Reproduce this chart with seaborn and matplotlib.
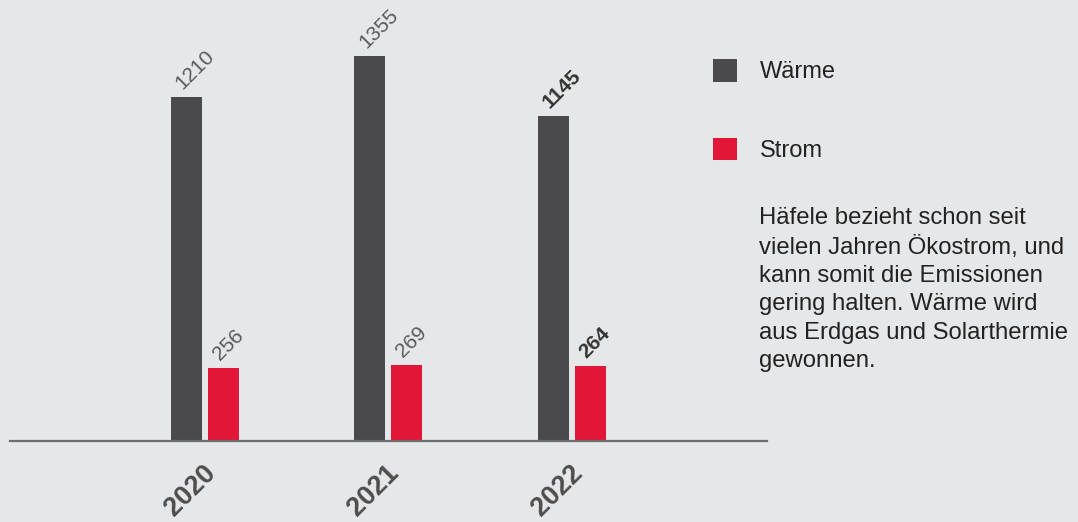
import matplotlib
matplotlib.use("Agg")
import matplotlib.pyplot as plt
import pandas as pd
import seaborn as sns

years = ["2020", "2021", "2022"]
waerme = [1210, 1355, 1145]
strom = [256, 269, 264]
series_names = ["Wärme", "Strom"]
note = ("Häfele bezieht schon seit\n"
        "vielen Jahren Ökostrom, und\n"
        "kann somit die Emissionen\n"
        "gering halten. Wärme wird\n"
        "aus Erdgas und Solarthermie\n"
        "gewonnen.")

BG = "#e6e7e9"
COLORS = {"Wärme": "#4a4a4c", "Strom": "#e21737"}


def build_frame() -> pd.DataFrame:
    rows = []
    for name, values in zip(series_names, [waerme, strom]):
        for year, value in zip(years, values):
            rows.append({"Jahr": year, "Wert": value, "Art": name})
    return pd.DataFrame(rows)


def main() -> None:
    sns.set_theme(style="white")
    plt.rcParams["font.family"] = ["Liberation Sans", "DejaVu Sans"]

    df = build_frame()
    fig = plt.figure(figsize=(10.78, 5.22), dpi=100, facecolor=BG)
    ax = fig.add_axes([10 / 1078, 81 / 522, 757 / 1078, 436 / 522])
    ax.set_facecolor(BG)

    sns.barplot(
        data=df, x="Jahr", y="Wert", hue="Art", hue_order=series_names,
        palette=COLORS, width=0.403, gap=0.162, saturation=1, ax=ax,
        edgecolor="none", linewidth=0,
    )

    ax.set_xlim(-1.06, 3.065)
    ax.set_ylim(0, 1535)
    for side in ["top", "left", "right"]:
        ax.spines[side].set_visible(False)
    ax.spines["bottom"].set_color("#6e6e6e")
    ax.spines["bottom"].set_linewidth(1.6)
    ax.set_xticks([])
    ax.set_yticks([])
    ax.set_xlabel("")
    ax.set_ylabel("")

    # value labels on the bars
    for container in ax.containers:
        for i, bar in enumerate(container):
            bold = years[i] == "2022"
            ax.annotate(
                f"{int(bar.get_height())}",
                (bar.get_x(), bar.get_height()),
                xytext=(15, 4), textcoords="offset pixels",
                rotation=45, rotation_mode="anchor", ha="left", va="bottom",
                fontsize=15, color="#333333" if bold else "#5a5a5a",
                fontweight="bold" if bold else "normal", annotation_clip=False,
            )

    # year labels
    for i, year in enumerate(years):
        ax.annotate(
            year, (i, 0), xytext=(12, -33), textcoords="offset pixels",
            rotation=45, rotation_mode="anchor", ha="right", va="baseline",
            fontsize=19.5, fontweight="bold", color="#4d4d4d",
            annotation_clip=False,
        )

    handles, labels = ax.get_legend_handles_labels()
    ax.legend(
        handles, labels, loc="upper left",
        bbox_to_anchor=(713 / 1078, 1 - 59 / 522), bbox_transform=fig.transFigure,
        frameon=False, fontsize=17, handlelength=1.0, handleheight=1.1,
        handletextpad=1.0, labelspacing=2.3, borderpad=0, borderaxespad=0,
        labelcolor="#222222",
    )

    fig.text(759 / 1078, 1 - 207 / 522, note, ha="left", va="top",
             fontsize=17.2, color="#222222", linespacing=1.37)

    fig.savefig("out.png", dpi=100, facecolor=BG)
    plt.close(fig)


if __name__ == "__main__":
    main()
